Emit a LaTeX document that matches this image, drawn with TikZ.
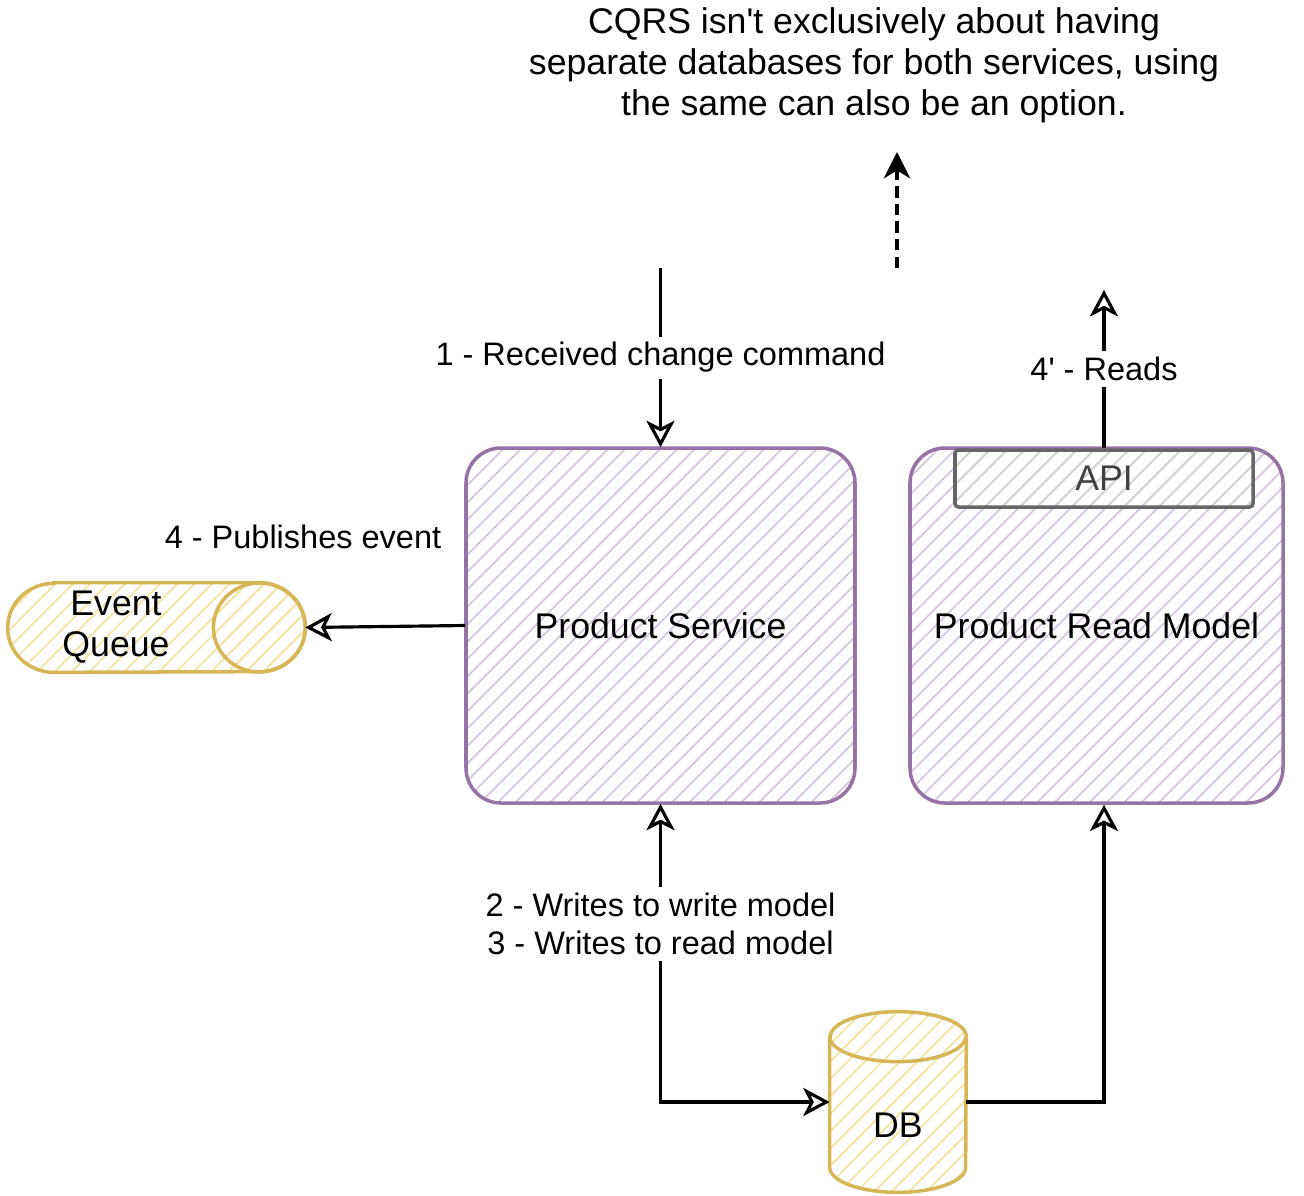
\documentclass[tikz,border=0pt]{standalone}
\usepackage{fontspec}
\setmainfont{Liberation Sans}[Ligatures=TeXOff]
\usepackage{xcolor}
\usetikzlibrary{arrows.meta,patterns.meta}
\definecolor{svcline}{HTML}{9673A6}
\definecolor{svchatch}{HTML}{D5C5E1}
\definecolor{dbline}{HTML}{D6B656}
\definecolor{dbhatch}{HTML}{F4E3A4}
\definecolor{apiline}{HTML}{666666}
\definecolor{apihatch}{HTML}{D4D4D4}
\newcommand{\bigtxt}{\fontsize{20.3}{23.3}\selectfont}
\tikzset{
hatch/.style = {pattern={Lines[angle=45,distance=7pt,line width=1pt]}, pattern color=#1},
service/.style = {rectangle, rounded corners=0.7cm, draw=svcline, line width=2pt, hatch=svchatch,
  minimum width=#1, minimum height=7.1cm, font=\bigtxt},
service/.default = 7.78cm, % width of the service box
store/.style = {draw=dbline, line width=2pt, hatch=dbhatch},
flow/.style = {line width=1.8pt, -{Stealth[open,length=15pt,width=16pt,inset=4pt]}},
}

\begin{document}
\begin{tikzpicture}[font=\fontsize{18.5}{21.6}\selectfont]
    \useasboundingbox (0,0) rectangle (26.08,-23.92);
    \node[service] (svc) at (13.21,-12.51) {Product Service};
    \node[service=7.46cm] (rm) at (21.93,-12.51) {Product Read Model};
    \node[rectangle, rounded corners=2pt, draw=apiline, line width=2pt, minimum width=5.96cm, minimum height=1.14cm,
      hatch=apihatch, text=black!75, font=\bigtxt] (api) at (22.08,-9.57) {API};
    % queue and database drawn round empty nodes
    \node[minimum width=5.94cm, minimum height=1.78cm, inner sep=0pt] (queue) at (3.13,-12.55) {};
    \draw[store] ([xshift=0.92cm]queue.north west) -- ([xshift=-0.92cm]queue.north east)
      arc[start angle=90, end angle=-90, x radius=0.92cm, y radius=0.89cm]
      -- ([xshift=0.92cm]queue.south west)
      arc[start angle=270, end angle=90, x radius=0.92cm, y radius=0.89cm] -- cycle;
    \draw[store] ([xshift=-0.92cm]queue.east) ellipse[x radius=0.92cm, y radius=0.89cm];
    \node[align=center, font=\bigtxt] (queuetxt) at ([xshift=-0.81cm]queue.center) {Event\\Queue};
    \node[minimum width=2.72cm, minimum height=3.6cm, inner sep=0pt] (db) at (17.96,-22.04) {};
    \draw[store] ([yshift=-0.5cm]db.north west) -- ([yshift=0.5cm]db.south west)
      arc[start angle=180, end angle=360, x radius=1.36cm, y radius=0.5cm]
      -- ([yshift=-0.5cm]db.north east)
      arc[start angle=0, end angle=180, x radius=1.36cm, y radius=0.5cm] -- cycle;
    \draw[draw=dbline, line width=2pt] ([yshift=-0.5cm]db.north west)
      arc[start angle=180, end angle=360, x radius=1.36cm, y radius=0.5cm];
    \node[font=\bigtxt] (dbtxt) at ([yshift=-0.46cm]db.center) {DB};
    \node[align=center, font=\bigtxt] (note) at (17.48,-1.3) {CQRS isn't exclusively about having\\separate databases for both services, using\\the same can also be an option.};
    \node (pubtxt) at (6.06,-10.74) {4 - Publishes event};
    \node[align=center] (writes) at (13.21,-18.48) {2 - Writes to write model\\3 - Writes to read model};
    \coordinate (cmdin) at (13.21,-5.36);
    \coordinate (readsout) at (22.08,-5.8);
    \coordinate (notefoot) at (17.94,-5.36);
    \coordinate (notehead) at (17.94,-3.04);

    \draw[flow] (cmdin) -- node[fill=white]{1 - Received change command} (svc.north);
    \draw[flow] (api.north) -- node[fill=white]{4' - Reads} (readsout);
    \draw[flow] (svc.west) -- (queue.east);
    \draw[flow] (writes) -- (svc.south);
    \draw[flow] (writes) |- (db.west);
    \draw[flow] (db.east) -| (api |- rm.south);
    \draw[line width=1.8pt, dash pattern=on 6.5pt off 3.5pt, -{Stealth[length=15pt,width=15pt,inset=4.5pt]}] (notefoot) -- (notehead);
\end{tikzpicture}
\end{document}
